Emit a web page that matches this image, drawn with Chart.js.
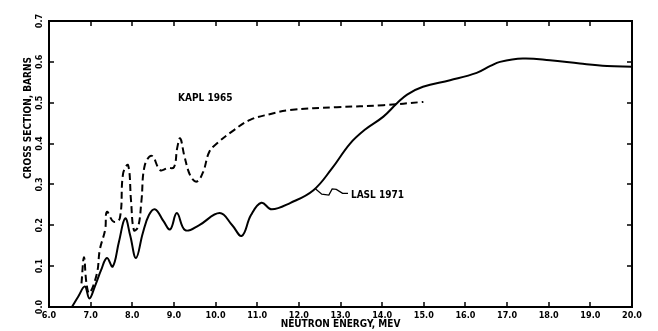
<!DOCTYPE html>
<html>
<head>
<meta charset="utf-8">
<script src="https://cdn.jsdelivr.net/npm/chart.js@4/dist/chart.umd.min.js"></script>
<style>
html,body{margin:0;padding:0;background:#fff;}
#wrap{width:658px;height:331px;position:relative;}
</style>
</head>
<body>
<div id="wrap"><canvas id="c"></canvas></div>
<script>
// Data
const laslEnergy = [6.55,6.7,6.86,6.97,7.1,7.25,7.39,7.53,7.68,7.83,7.95,8.09,8.25,8.4,8.55,8.75,8.91,9.07,9.27,9.6,10.1,10.4,10.63,10.85,11.1,11.35,11.8,12.35,12.8,13.23,13.6,14.03,14.35,14.6,14.98,15.63,16.27,16.6,16.83,17.38,18.03,18.75,19.4,20.0];
const laslSigma  = [0.0,0.025,0.05,0.021,0.05,0.09,0.12,0.099,0.16,0.217,0.175,0.12,0.18,0.225,0.239,0.21,0.19,0.23,0.188,0.2,0.23,0.2,0.174,0.225,0.255,0.239,0.255,0.286,0.34,0.40,0.435,0.466,0.498,0.52,0.539,0.555,0.573,0.59,0.60,0.608,0.604,0.596,0.59,0.588];
const kaplEnergy = [6.78,6.84,6.9,6.97,7.15,7.22,7.35,7.39,7.55,7.7,7.78,7.9,7.97,8.04,8.14,8.22,8.3,8.47,8.67,8.85,9.0,9.08,9.15,9.25,9.4,9.55,9.7,9.85,10.03,10.4,10.83,11.3,11.79,12.91,14.03,14.99];
const kaplSigma  = [0.058,0.122,0.058,0.034,0.082,0.14,0.19,0.233,0.209,0.217,0.327,0.347,0.26,0.188,0.196,0.26,0.347,0.37,0.335,0.34,0.342,0.39,0.413,0.37,0.32,0.307,0.33,0.38,0.40,0.43,0.458,0.472,0.482,0.489,0.494,0.502];
const xTicks = [6,7,8,9,10,11,12,13,14,15,16,17,18,19,20];
const yTicks = [0.0,0.1,0.2,0.3,0.4,0.5,0.6,0.7];
const seriesNames = ["LASL 1971","KAPL 1965"];
// Leader line from the LASL curve to its label
const leaderEnergy = [12.39,12.55,12.72,12.8,12.9,13.05,13.18];
const leaderSigma  = [0.29,0.276,0.274,0.289,0.288,0.278,0.278];

const pts = (xs, ys) => xs.map((x,i)=>({x:x,y:ys[i]}));
const FONT = "'Liberation Sans Narrow','DejaVu Sans Condensed','DejaVu Sans',sans-serif";

const deco = {
  id:'deco',
  afterDraw(chart){
    const ctx = chart.ctx, a = chart.chartArea;
    const xs = chart.scales.x, ys = chart.scales.y;
    ctx.save();
    ctx.strokeStyle = '#000'; ctx.lineWidth = 2;
    ctx.strokeRect(a.left, a.top, a.right-a.left, a.bottom-a.top);
    ctx.lineWidth = 1.5;
    ctx.beginPath();
    xTicks.forEach(v=>{
      const px = Math.round(xs.getPixelForValue(v));
      ctx.moveTo(px, a.bottom); ctx.lineTo(px, a.bottom-5);
      ctx.moveTo(px, a.top); ctx.lineTo(px, a.top+5);
    });
    yTicks.forEach(v=>{
      const py = Math.round(ys.getPixelForValue(v));
      ctx.moveTo(a.left, py); ctx.lineTo(a.left+5, py);
      ctx.moveTo(a.right, py); ctx.lineTo(a.right-5, py);
    });
    ctx.stroke();
    // y tick labels, rotated
    ctx.fillStyle = '#000';
    ctx.font = 'bold 9px ' + FONT;
    ctx.textAlign = 'center'; ctx.textBaseline = 'middle';
    yTicks.forEach(v=>{
      const py = ys.getPixelForValue(v);
      ctx.save(); ctx.translate(a.left-9, py); ctx.rotate(-Math.PI/2);
      ctx.fillText(v.toFixed(1), 0, 0); ctx.restore();
    });
    // y title
    ctx.save(); ctx.translate(28, 118); ctx.rotate(-Math.PI/2);
    ctx.font = 'bold 10px ' + FONT;
    ctx.fillText('CROSS SECTION, BARNS', 0, 0); ctx.restore();
    // series labels
    ctx.font = 'bold 10px ' + FONT;
    ctx.textAlign = 'left';
    ctx.fillText(seriesNames[1], xs.getPixelForValue(9.1), ys.getPixelForValue(0.511));
    ctx.fillText(seriesNames[0], xs.getPixelForValue(13.25), ys.getPixelForValue(0.274));
    // leader
    ctx.lineWidth = 1.3;
    ctx.beginPath();
    leaderEnergy.forEach((e,i)=>{
      const px = xs.getPixelForValue(e), py = ys.getPixelForValue(leaderSigma[i]);
      if(i===0) ctx.moveTo(px,py); else ctx.lineTo(px,py);
    });
    ctx.stroke();
    ctx.restore();
  }
};

new Chart(document.getElementById('c'), {
  type:'line',
  data:{
    datasets:[
      {label:seriesNames[0], data:pts(laslEnergy,laslSigma), borderColor:'#000', borderWidth:2, pointRadius:0, tension:0.4, fill:false},
      {label:seriesNames[1], data:pts(kaplEnergy,kaplSigma), borderColor:'#000', borderWidth:2, borderDash:[7,4], pointRadius:0, tension:0.4, fill:false}
    ]
  },
  options:{
    responsive:true, maintainAspectRatio:false, animation:false,
    layout:{padding:{left:9, top:21, right:26, bottom:0}},
    plugins:{legend:{display:false}, tooltip:{enabled:false}},
    scales:{
      x:{type:'linear', min:6, max:20,
        afterBuildTicks(s){ s.ticks = xTicks.map(v=>({value:v})); },
        afterFit(s){ s.height = 24; },
        grid:{display:false, drawTicks:false},
        border:{display:true, color:'#000', width:2},
        ticks:{padding:3, color:'#000', font:{family:FONT, size:9, weight:'bold'}, maxRotation:0, autoSkip:false, callback:v=>Number(v).toFixed(1)},
        title:{display:true, text:'NEUTRON ENERGY, MEV', color:'#000', font:{family:FONT, size:10, weight:'bold'}, padding:{top:0,bottom:1}}
      },
      y:{type:'linear', min:0, max:0.7,
        afterBuildTicks(s){ s.ticks = yTicks.map(v=>({value:v})); },
        afterFit(s){ s.width = 40; },
        grid:{display:false, drawTicks:false},
        border:{display:true, color:'#000', width:2},
        ticks:{display:false}
      }
    }
  },
  plugins:[deco]
});
</script>
</body>
</html>
